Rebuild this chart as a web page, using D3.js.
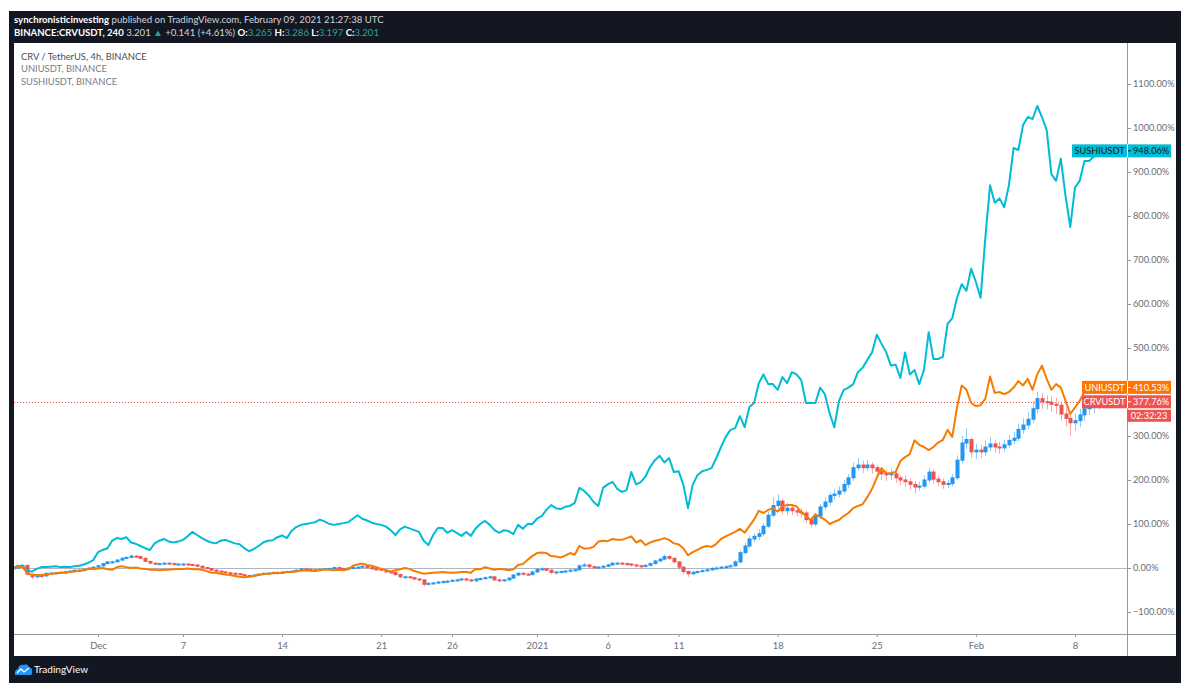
<!DOCTYPE html>
<html>
<head>
<meta charset="utf-8">
<script src="https://cdn.jsdelivr.net/npm/d3@7"></script>
<style>
  body { margin: 0; background: #fff; }
  svg text { font-family: Lato, "Noto Sans", sans-serif; }
</style>
</head>
<body>
<svg id="chart" width="1195" height="694"></svg>
<script>
// 8h bars from 2020-11-25 00:00 UTC, all values are % change vs. first bar
const barStart = Date.UTC(2020, 10, 25)
const barHours = 8

const crvClose = [0,5,6, -14,-20,-17, -18,-12,-12, -11,-10,-9, -7,-5,-5, -3,0,2,
  5,10,14, 14,18,22, 24,27,26, 22,15,11, 9,10,11, 10,9,9, 9,8,7, 4,1,-1, -5,-7,-9,
  -11,-12,-13, -15,-17,-18, -16,-14,-12, -12,-10,-10, -10,-8,-7, -5,-2,-3, -4,-5,-3,
  -2,-1,1, -1,-2,0, 1,2,4, 1,-2,-3, -5,-9,-10, -15,-20,-20, -22,-25,-27, -37,-35,-34,
  -32,-31,-30, -28,-27,-25, -27,-29,-25, -24,-22,-20, -27,-29,-27, -23,-16,-12, -14,-15,-9,
  -3,-2,-5, -10,-9,-8, -7,-5,-4, 5,7,3, 2,2,4, 7,11,11, 10,9,7, 5,4,6, 10,16,20,
  26,22,14, 2,-8,-13, -10,-8,-6, -4,-1,0, 2,3,5, 14,35,50, 66,72,78, 95,120,142,
  152,130,136, 130,127,125, 110,100,118, 139,150,165, 168,175,190, 205,228,234,
  228,234,228, 220,214,212, 214,205,200, 196,190,184, 186,200,218, 202,196,190,
  192,205,245, 284,292,264, 268,264,275, 282,275,273, 280,290,295, 315,325,338,
  362,385,378, 377,372,370, 350,340,330, 335,348,362, 365,370,377.76]

const crvHigh = [3,8,9, 7,-12,-14, -14,-10,-9, -9,-8,-7, -5,-3,-2, -1,2,4,
  8,12,16, 17,20,25, 27,31,29, 28,23,16, 13,12,13, 13,12,11, 12,11,10, 8,5,2, 0,-3,-5,
  -7,-9,-10, -11,-13,-15, -14,-12,-10, -9,-8,-7, -8,-6,-5, -3,0,1, -1,-2,-1,
  0,1,3, 3,1,2, 3,4,7, 6,2,0, -1,-3,-7, -8,-13,-17, -18,-20,-23, -25,-32,-31,
  -29,-28,-27, -25,-24,-22, -22,-25,-22, -21,-19,-17, -18,-24,-25, -20,-13,-9, -9,-11,-6,
  0,2,0, -3,-6,-5, -4,-2,-1, 8,12,9, 6,5,7, 10,14,15, 14,13,11, 10,8,9, 13,19,24,
  31,30,24, 16,4,-5, -6,-5,-3, -1,2,4, 5,7,9, 18,40,58, 74,80,88, 102,128,160,
  168,158,148, 142,138,135, 130,116,124, 146,160,172, 180,186,200, 214,240,250,
  244,246,240, 234,228,224, 226,222,212, 210,204,198, 196,210,228, 224,210,204,
  200,214,256, 300,318,298, 282,280,290, 298,292,286, 292,302,310, 328,340,355,
  378,400,398, 392,390,386, 378,365,352, 352,362,372, 378,382,385]

const crvLow = [-3,-1,3, -17,-25,-24, -22,-20,-15, -14,-13,-12, -11,-9,-7, -7,-5,-2,
  0,3,8, 11,12,16, 20,22,23, 20,13,8, 6,7,8, 8,7,6, 7,6,5, 2,-1,-3, -7,-9,-11,
  -13,-14,-15, -17,-19,-21, -20,-18,-16, -14,-13,-12, -12,-12,-10, -9,-7,-5, -6,-7,-7,
  -5,-4,-3, -3,-4,-4, -2,-1,0, -1,-4,-5, -7,-11,-13, -18,-23,-23, -25,-28,-30, -42,-40,-38,
  -36,-35,-34, -32,-31,-29, -30,-32,-31, -28,-27,-25, -30,-33,-32, -29,-25,-19, -18,-19,-17,
  -11,-6,-8, -14,-14,-12, -11,-10,-8, -6,2,-2, -3,-2,-1, 2,5,8, 6,5,3, 1,0,1, 4,8,14,
  17,18,10, -4,-15,-20, -17,-13,-11, -9,-7,-4, -3,-1,1, 3,10,30, 45,58,64, 72,90,115,
  135,122,120, 120,118,115, 102,92,95, 112,132,142, 155,160,168, 182,198,220,
  216,220,214, 205,200,198, 200,194,188, 184,178,170, 176,180,194, 192,186,180,
  182,186,200, 238,270,250, 248,250,255, 266,262,260, 264,272,282, 288,305,315,
  330,352,362, 360,355,350, 335,322,300, 312,320,335, 348,352,360]

const uniPct = [0,2,2, -11,-16,-16, -16,-15,-13, -12,-11,-10, -9,-8,-6, -5,-2,-2,
  -1,0,-3, -4,2,4, 2,0,1, -1,-2,-4, -4,-5,-4, -4,-3,-2, -2,-1,-3, -3,-4,-7, -11,-11,-13,
  -15,-16,-18, -20,-21,-20, -18,-16,-14, -13,-12,-12, -10,-9,-9, -8,-6,-5, -6,-7,-5,
  -3,-4,-5, -4,-5,-3, 5,8,10, 7,5,2, -2,-5,-8, -5,-3,0, -2,-7,-10, -13,-12,-11,
  -10,-9,-10, -11,-10,-9, -9,-11,-2, -3,2,-1, -4,-2,-3, -5,-3,7, 9,18,27,
  34,35,34, 27,26,24, 28,34,30, 50,44,45, 48,60,62, 61,66,64, 64,68,72, 58,63,52, 58,62,64,
  68,64,56, 54,45,29, 36,41,47, 50,48,55, 66,72,77, 82,89,80, 95,110,130, 125,132,136,
  128,140,143, 143,140,127, 118,109,122, 116,110,100, 105,109,118, 125,136,141,
  145,161,180, 205,227,215, 216,218,243, 252,259,290, 280,275,268, 275,285,291,
  314,298,365, 415,405,375, 368,370,385, 435,398,400, 395,400,410, 425,415,430,
  405,440,460, 430,405,418, 410,380,350, 365,380,400, 415,412,410.53]

const sushiPct = [0,4,5, -6,-8,-2, 2,2,3, 4,2,3, 2,4,5, 8,12,18,
  36,41,45, 62,68,66, 70,58,55, 50,45,41, 56,62,66, 60,58,60, 64,72,82, 75,68,62, 58,56,62,
  64,60,56, 54,45,38, 43,50,58, 62,63,70, 74,68,84, 93,98,100, 102,104,110,
  106,100,98, 100,102,104, 112,120,112, 108,103,100, 98,94,86, 75,88,94, 90,86,82, 62,52,75,
  91,91,80, 86,80,73, 82,73,90, 100,107,98, 86,80,86, 84,77,98, 89,100,100,
  112,118,132, 143,136,134, 139,141,148, 182,175,165, 150,141,182, 190,196,180, 173,177,218, 190,195,208, 230,245,255,
  240,250,218, 220,190,136, 189,211,220, 223,227,250, 275,298,314, 318,345,320, 366,375,420, 440,418,418,
  405,434,420, 445,440,427, 375,375,375, 410,395,352, 320,380,405, 410,418,445,
  455,473,490, 530,510,490, 460,462,432, 490,440,450, 418,450,536, 475,475,480,
  555,568,614, 645,630,680, 650,614,750, 870,830,840, 820,870,955, 950,1007,1025,
  1020,1050,1025, 995,895,880, 930,845,775, 865,880,925, 925,935,948.06]

const xTickDates = ['2020-12-01','2020-12-07','2020-12-14','2020-12-21','2020-12-26','2021-01-01',
  '2021-01-06','2021-01-11','2021-01-18','2021-01-25','2021-02-01','2021-02-08']
const xTickLabels = ['Dec','7','14','21','26','2021','6','11','18','25','Feb','8']
const yTicks = [-100, 0, 100, 200, 300, 400, 500, 600, 700, 800, 900, 1000, 1100]

const seriesNames = ['CRV / TetherUS, 4h, BINANCE', 'UNIUSDT, BINANCE', 'SUSHIUSDT, BINANCE']

const UP = '#2196f3', DOWN = '#ef5350', UNI = '#f57c00', SUSHI = '#00bcd4'
const DARK = '#131722'

const svg = d3.select('#chart')
const plot = { left: 14, right: 1127, top: 43, bottom: 634 }

const x = d3.scaleUtc()
  .domain([new Date(Date.UTC(2020, 11, 1)), new Date(Date.UTC(2021, 1, 8))])
  .range([98, 1075])
const y = d3.scaleLinear().domain([0, 1100]).range([568, 84])

const times = crvClose.map((d, i) => new Date(barStart + i * barHours * 3600e3))
const crvOpen = [0].concat(crvClose.slice(0, -1))
const lastCrv = crvClose[crvClose.length - 1]
const lastUni = uniPct[uniPct.length - 1]
const lastSushi = sushiPct[sushiPct.length - 1]

// frame
svg.append('rect').attr('x', 9).attr('y', 11).attr('width', 1172).attr('height', 672).attr('fill', DARK)
svg.append('rect').attr('x', 14).attr('y', 43).attr('width', 1162).attr('height', 613).attr('fill', '#fff')

// header
const head = svg.append('g').attr('font-size', 9.6).attr('fill', '#d1d4dc')
const h1 = head.append('text').attr('x', 14).attr('y', 23)
h1.append('tspan').attr('font-weight', 700).attr('fill', '#fff').text('synchronisticinvesting')
h1.append('tspan').text(' published on TradingView.com, February 09, 2021 21:27:38 UTC')
const h2 = head.append('text').attr('x', 14).attr('y', 35.5)
h2.append('tspan').attr('font-weight', 700).attr('fill', '#fff').text('BINANCE:CRVUSDT, 240')
h2.append('tspan').text('  3.201 ')
h2.append('tspan').attr('fill', '#26a69a').text('▲')
h2.append('tspan').text(' +0.141 (+4.61%) ')
;[['O:', '3.265'], ['H:', '3.286'], ['L:', '3.197'], ['C:', '3.201']].forEach(([k, v], i) => {
  h2.append('tspan').attr('font-weight', 700).attr('fill', '#fff').text((i ? ' ' : '') + k)
  h2.append('tspan').attr('fill', '#26a69a').text(v)
})

// clip for plot
svg.append('clipPath').attr('id', 'clip').append('rect')
  .attr('x', plot.left).attr('y', plot.top)
  .attr('width', plot.right - plot.left).attr('height', plot.bottom - plot.top)
const g = svg.append('g').attr('clip-path', 'url(#clip)')

// zero line and last price line
g.append('line').attr('x1', plot.left).attr('x2', plot.right)
  .attr('y1', y(0) + 0.5).attr('y2', y(0) + 0.5).attr('stroke', '#b2b5be').attr('stroke-width', 1)
g.append('line').attr('x1', plot.left).attr('x2', plot.right)
  .attr('y1', Math.round(y(lastCrv)) + 0.5).attr('y2', Math.round(y(lastCrv)) + 0.5)
  .attr('stroke', DOWN).attr('stroke-width', 1).attr('stroke-dasharray', '1,2')

// candles
const candles = g.append('g').selectAll('g').data(crvClose).join('g')
candles.append('line')
  .attr('x1', (d, i) => Math.round(x(times[i])) + 0.5).attr('x2', (d, i) => Math.round(x(times[i])) + 0.5)
  .attr('y1', (d, i) => y(crvHigh[i])).attr('y2', (d, i) => y(crvLow[i]))
  .attr('stroke', (d, i) => d >= crvOpen[i] ? UP : DOWN).attr('stroke-opacity', 0.5)
candles.append('rect')
  .attr('x', (d, i) => Math.round(x(times[i])) - 1.5)
  .attr('width', 4)
  .attr('y', (d, i) => y(Math.max(d, crvOpen[i])) - 0.5)
  .attr('height', (d, i) => Math.max(2, Math.abs(y(d) - y(crvOpen[i])) + 1))
  .attr('fill', (d, i) => d >= crvOpen[i] ? UP : DOWN)

// compare lines
const line = d3.line().x((d, i) => x(times[i])).y(d => y(d))
g.append('path').datum(sushiPct).attr('d', line)
  .attr('fill', 'none').attr('stroke', SUSHI).attr('stroke-width', 2).attr('stroke-linejoin', 'round')
g.append('path').datum(uniPct).attr('d', line)
  .attr('fill', 'none').attr('stroke', UNI).attr('stroke-width', 2).attr('stroke-linejoin', 'round')

// legend
const leg = svg.append('g').attr('font-size', 9.4)
seriesNames.forEach((s, i) => {
  leg.append('text').attr('x', 21).attr('y', 59.5 + i * 12.5)
    .attr('fill', i ? '#787b86' : '#4a4d57').text(s)
})

// x axis
const xAxis = svg.append('g').attr('transform', `translate(0,${plot.bottom})`)
  .call(d3.axisBottom(x).tickValues(xTickDates.map(d => new Date(d + 'T00:00:00Z')))
    .tickFormat((d, i) => xTickLabels[i]).tickSize(3).tickPadding(5))
xAxis.select('.domain').remove()
xAxis.selectAll('.tick line').attr('stroke', '#9598a1')
xAxis.selectAll('.tick text').attr('fill', '#6a6d78').attr('font-size', 9.4).attr('font-family', 'Lato, sans-serif')
svg.append('line').attr('x1', plot.left).attr('x2', 1176).attr('y1', plot.bottom + 0.5).attr('y2', plot.bottom + 0.5)
  .attr('stroke', '#9598a1')

// y axis (labels hidden where a price badge covers them)
const badgeYs = [lastSushi, lastUni, lastCrv].map(v => y(v))
const yAxis = svg.append('g').attr('transform', `translate(${plot.right},0)`)
  .call(d3.axisRight(y).tickValues(yTicks)
    .tickFormat(d => (d < 0 ? '\u2212' + (-d).toFixed(2) : d.toFixed(2)) + '%').tickSize(4).tickPadding(2))
yAxis.select('.domain').remove()
yAxis.selectAll('.tick line').attr('stroke', '#9598a1')
yAxis.selectAll('.tick text').attr('fill', '#6a6d78').attr('font-size', 9.2).attr('font-family', 'Lato, sans-serif')
yAxis.selectAll('.tick').filter(d => badgeYs.some(b => Math.abs(b - y(d)) < 9)).remove()
svg.append('line').attr('x1', plot.right + 0.5).attr('x2', plot.right + 0.5).attr('y1', plot.top).attr('y2', 656)
  .attr('stroke', '#9598a1')

// price badges
function badge(name, value, color, textColor, left) {
  const cy = y(value)
  const b = svg.append('g')
  b.append('rect').attr('x', left).attr('y', cy - 6.5).attr('width', 1171 - left).attr('height', 13).attr('fill', color)
  b.append('line').attr('x1', plot.right + 0.5).attr('x2', plot.right + 0.5).attr('y1', cy - 6.5).attr('y2', cy + 6.5).attr('stroke', '#fff')
  b.append('line').attr('x1', plot.right + 1).attr('x2', plot.right + 4).attr('y1', cy).attr('y2', cy).attr('stroke', textColor)
  b.append('text').attr('x', (left + plot.right) / 2).attr('y', cy + 3.3).attr('text-anchor', 'middle')
    .attr('font-size', 9.2).attr('fill', textColor).text(name)
  b.append('text').attr('x', plot.right + 6).attr('y', cy + 3.3)
    .attr('font-size', 9.2).attr('fill', textColor).text(value.toFixed(2) + '%')
}
badge('SUSHIUSDT', lastSushi, SUSHI, DARK, 1072)
badge('UNIUSDT', lastUni, '#ff7300', '#fff', 1082)
badge('CRVUSDT', lastCrv, DOWN, '#fff', 1082)
const tcy = y(lastCrv) + 14
svg.append('rect').attr('x', plot.right).attr('y', tcy - 6).attr('width', 44).attr('height', 12).attr('fill', DOWN)
svg.append('text').attr('x', plot.right + 22).attr('y', tcy + 3.3).attr('text-anchor', 'middle')
  .attr('font-size', 9.2).attr('fill', '#fff').text('02:32:23')

// footer logo
const logo = svg.append('g').attr('transform', 'translate(14,663)')
logo.append('path').attr('d', 'M1,12 Q0,7 4,6 Q5,1 10,2 Q13,0 15,4 Q19,5 18,9 Q19,12 16,12 Z').attr('fill', '#2196f3')
logo.append('path').attr('d', 'M3,10 L7,6 L10,9 L15,5').attr('fill', 'none').attr('stroke', '#fff').attr('stroke-width', 1.3)
svg.append('text').attr('x', 34).attr('y', 673).attr('font-size', 10).attr('fill', '#fff').text('TradingView')
</script>
</body>
</html>
